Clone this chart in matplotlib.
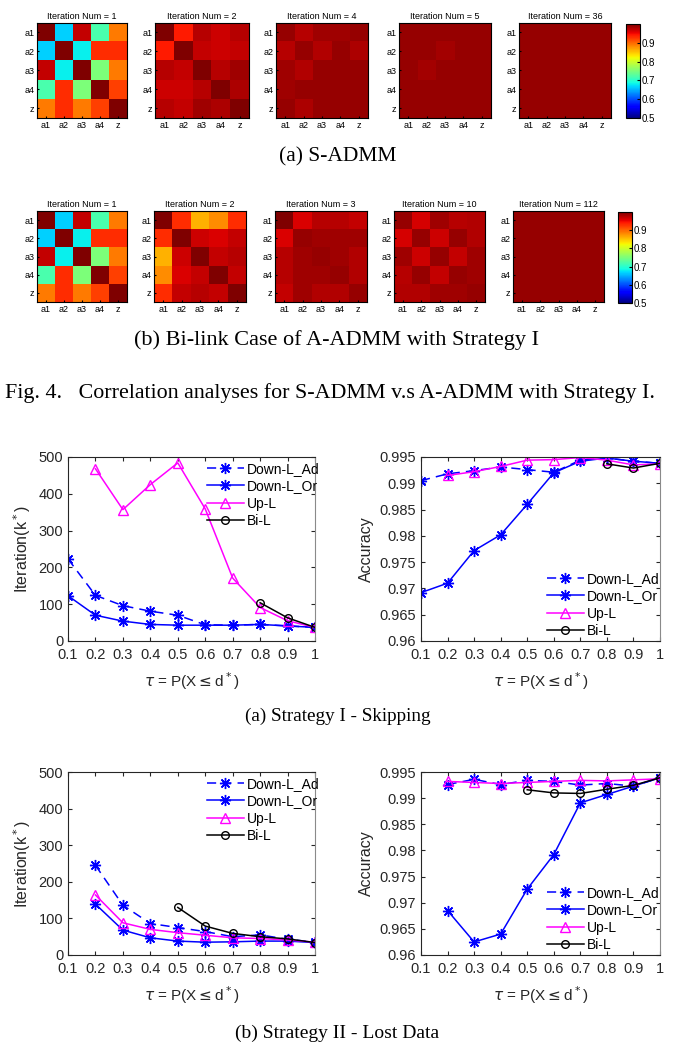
import numpy as np
import matplotlib.pyplot as plt

plt.rcParams["font.family"] = ["Liberation Sans", "DejaVu Sans"]
plt.rcParams["mathtext.fontset"] = "dejavusans"

W, H = 677, 1045

# ---- heatmap data (correlation matrices) ----
labels = ["a1", "a2", "a3", "a4", "z"]

s_iters = [1, 2, 4, 5, 36]
s_mats = [
    [[1.00, 0.665, 0.97, 0.72, 0.89],
     [0.665, 1.00, 0.68, 0.93, 0.93],
     [0.97, 0.68, 1.00, 0.75, 0.89],
     [0.72, 0.93, 0.75, 1.00, 0.92],
     [0.89, 0.93, 0.89, 0.92, 1.00]],
    [[1.00, 0.94, 0.975, 0.965, 0.975],
     [0.94, 1.00, 0.97, 0.965, 0.97],
     [0.975, 0.97, 1.00, 0.975, 0.985],
     [0.965, 0.965, 0.975, 1.00, 0.98],
     [0.975, 0.97, 0.985, 0.98, 1.00]],
    [[0.99, 0.975, 0.985, 0.985, 0.99],
     [0.975, 0.99, 0.978, 0.99, 0.98],
     [0.985, 0.978, 0.99, 0.99, 0.99],
     [0.985, 0.99, 0.99, 0.99, 0.99],
     [0.99, 0.98, 0.99, 0.99, 0.99]],
    [[0.99, 0.99, 0.99, 0.99, 0.99],
     [0.99, 0.99, 0.984, 0.99, 0.99],
     [0.99, 0.984, 0.99, 0.99, 0.99],
     [0.99, 0.99, 0.99, 0.99, 0.99],
     [0.99, 0.99, 0.99, 0.99, 0.99]],
    [[0.99] * 5] * 5,
]

b_iters = [1, 2, 3, 10, 112]
b_mats = [
    s_mats[0],
    [[1.00, 0.93, 0.86, 0.88, 0.93],
     [0.93, 1.00, 0.965, 0.96, 0.97],
     [0.86, 0.965, 1.00, 0.97, 0.975],
     [0.88, 0.96, 0.97, 1.00, 0.97],
     [0.93, 0.97, 0.975, 0.97, 1.00]],
    [[1.00, 0.96, 0.975, 0.975, 0.97],
     [0.96, 0.99, 0.985, 0.985, 0.985],
     [0.975, 0.985, 0.99, 0.985, 0.978],
     [0.975, 0.985, 0.985, 0.99, 0.978],
     [0.97, 0.985, 0.978, 0.978, 0.99]],
    [[0.99, 0.962, 0.985, 0.975, 0.978],
     [0.962, 0.99, 0.965, 0.99, 0.978],
     [0.985, 0.965, 0.99, 0.97, 0.985],
     [0.975, 0.99, 0.97, 0.99, 0.985],
     [0.978, 0.978, 0.985, 0.985, 0.99]],
    [[0.99] * 5] * 5,
]

# ---- line plot data ----
tau = [0.1, 0.2, 0.3, 0.4, 0.5, 0.6, 0.7, 0.8, 0.9, 1.0]
tau_labels = ["0.1", "0.2", "0.3", "0.4", "0.5", "0.6", "0.7", "0.8", "0.9", "1"]

# Strategy I - Skipping
s1_iter_ad = [223, 124, 96, 81, 70, 44, 43, 45, 41, 37]
s1_iter_or = [123, 70, 54, 45, 43, 43, 43, 45, 41, 37]
s1_iter_up = [None, 468, 357, 425, 484, 359, 171, 91, 55, 37]
s1_iter_bi = [None, None, None, None, None, None, None, 104, 63, 37]

s1_acc_ad = [0.9905, 0.9918, 0.9924, 0.9931, 0.9926, 0.9921, 0.9944, 0.9948, 0.9942, 0.9938]
s1_acc_or = [0.9692, 0.9710, 0.9772, 0.9802, 0.9860, 0.9920, 0.9942, 0.9948, 0.9942, 0.9938]
s1_acc_up = [None, 0.9915, 0.9922, 0.9932, 0.9944, 0.9945, 0.9949, 0.9944, 0.9935, 0.9937]
s1_acc_bi = [None, None, None, None, None, None, None, 0.9937, 0.9929, 0.9938]

# Strategy II - Lost Data
s2_iter_ad = [None, 245, 136, 86, 75, 64, 50, 55, 43, 35]
s2_iter_or = [None, 139, 68, 47, 38, 35, 36, 38, 38, 34]
s2_iter_up = [None, 164, 88, 70, 61, 54, 47, 45, 41, 35]
s2_iter_bi = [None, None, None, None, 130, 79, 59, 50, 44, 34]

s2_acc_ad = [None, 0.9926, 0.9936, 0.9926, 0.9934, 0.9932, 0.9925, 0.9928, 0.9923, 0.9939]
s2_acc_or = [None, 0.9685, 0.9625, 0.9640, 0.9726, 0.9792, 0.9891, 0.9907, 0.9923, 0.9939]
s2_acc_up = [None, 0.9932, 0.9930, 0.9928, 0.9930, 0.9932, 0.9934, 0.9933, 0.9935, 0.9937]
s2_acc_bi = [None, None, None, None, 0.9916, 0.9910, 0.9909, 0.9917, 0.99245, 0.9939]

series_names = ["Down-L_Ad", "Down-L_Or", "Up-L", "Bi-L"]

iter_ticks = [0, 100, 200, 300, 400, 500]
acc_ticks = [0.96, 0.965, 0.97, 0.975, 0.98, 0.985, 0.99, 0.995]
acc_labels = ["0.96", "0.965", "0.97", "0.975", "0.98", "0.985", "0.99", "0.995"]

fig = plt.figure(figsize=(W / 100, H / 100), dpi=100)


def px_axes(x0, y0, x1, y1):
    return fig.add_axes([x0 / W, 1 - y1 / H, (x1 - x0) / W, (y1 - y0) / H])


def heat_row(mats, iters, xs, y0, y1, cbar):
    for m, it, (xa, xb) in zip(mats, iters, xs):
        ax = px_axes(xa, y0, xb, y1)
        im = ax.imshow(np.array(m, dtype=float), cmap="jet", vmin=0.5, vmax=1.0,
                       aspect="auto", interpolation="nearest")
        ax.set_xticks(range(5))
        ax.set_yticks(range(5))
        ax.set_xticklabels(labels, fontsize=6.5)
        ax.set_yticklabels(labels, fontsize=6.5)
        ax.tick_params(length=1.5, direction="in", pad=2)
        ax.set_title(f"Iteration Num = {it}", fontsize=6.5, pad=3)
    cax = px_axes(*cbar)
    cb = fig.colorbar(im, cax=cax, ticks=[0.5, 0.6, 0.7, 0.8, 0.9])
    cb.ax.tick_params(labelsize=7, length=2, direction="in", pad=1)


heat_row(s_mats, s_iters, [(37, 127), (155, 249), (276, 368), (399, 491), (519, 611)],
         23, 118, (626, 24, 640, 118))
heat_row(b_mats, b_iters, [(37, 127), (154, 246), (275, 367), (394, 485), (513, 604)],
         211, 302, (618, 212, 632, 303))


def to_arr(v):
    return np.array([np.nan if a is None else a for a in v], dtype=float)


def line_panel(box, ad, orr, up, bi, ylim, yticks, ylabel, legend_loc, anchor):
    ax = px_axes(*box)
    star = (8, 2, 0)
    ax.plot(tau, to_arr(ad), color="blue", ls=(0, (6, 4)), lw=1.1, marker=star,
            ms=8, mew=1.0, label=series_names[0])
    ax.plot(tau, to_arr(orr), color="blue", ls="-", lw=1.1, marker=star,
            ms=8, mew=1.0, label=series_names[1])
    ax.plot(tau, to_arr(up), color="magenta", ls="-", lw=1.1, marker="^",
            ms=7, mfc="none", mew=1.0, label=series_names[2])
    ax.plot(tau, to_arr(bi), color="black", ls="-", lw=1.1, marker="o",
            ms=5.5, mfc="none", mew=1.0, label=series_names[3])
    ax.set_xlim(0.1, 1.0)
    ax.set_ylim(*ylim)
    ax.set_xticks(tau)
    ax.set_xticklabels(tau_labels)
    ax.set_yticks(yticks)
    ax.tick_params(direction="in", length=3, labelsize=10.5, top=True, right=True,
                   colors="#262626")
    ax.tick_params(axis="x", pad=5)
    for s in ax.spines.values():
        s.set_color("#262626")
        s.set_linewidth(0.8)
    ax.spines["right"].set_color("#8a8a8a")
    ax.set_xlabel(r"$\tau$ = P(X$\leq$d$^*$)", fontsize=11, color="#262626",
                  labelpad=6)
    ax.set_ylabel(ylabel, fontsize=11.5, color="#262626")
    ax.legend(loc=legend_loc, bbox_to_anchor=anchor, frameon=False, fontsize=10,
              handlelength=2.6, labelspacing=0.25, handletextpad=0.25,
              borderaxespad=0.0, borderpad=0.2)
    return ax


line_panel((68, 457, 315, 641), s1_iter_ad, s1_iter_or, s1_iter_up, s1_iter_bi,
           (0, 500), iter_ticks, r"Iteration(k$^*$)", "upper right", (1.03, 0.99))
ax = line_panel((421, 457, 660, 641), s1_acc_ad, s1_acc_or, s1_acc_up, s1_acc_bi,
                (0.96, 0.995), acc_ticks, "Accuracy", "lower right", (1.01, 0.0))
ax.set_yticklabels(acc_labels)
line_panel((68, 772, 315, 955), s2_iter_ad, s2_iter_or, s2_iter_up, s2_iter_bi,
           (0, 500), iter_ticks, r"Iteration(k$^*$)", "upper right", (1.03, 0.99))
ax = line_panel((421, 772, 660, 955), s2_acc_ad, s2_acc_or, s2_acc_up, s2_acc_bi,
                (0.96, 0.995), acc_ticks, "Accuracy", "lower right", (1.01, 0.0))
ax.set_yticklabels(acc_labels)

# ---- captions ----
serif = "Liberation Serif"
fig.text(338 / W, 1 - 157 / H, "(a) S-ADMM", ha="center", va="center",
         family=serif, fontsize=15.5)
fig.text(337 / W, 1 - 340 / H, "(b) Bi-link Case of A-ADMM with Strategy I",
         ha="center", va="center", family=serif, fontsize=16)
fig.text(5 / W, 1 - 393 / H,
         "Fig. 4.   Correlation analyses for S-ADMM v.s A-ADMM with Strategy I.",
         ha="left", va="center", family=serif, fontsize=15.8)
fig.text(338 / W, 1 - 716 / H, "(a) Strategy I - Skipping", ha="center", va="center",
         family=serif, fontsize=13.8)
fig.text(337 / W, 1 - 1033 / H, "(b) Strategy II - Lost Data", ha="center",
         va="center", family=serif, fontsize=14)

fig.savefig("out.png", dpi=100)
